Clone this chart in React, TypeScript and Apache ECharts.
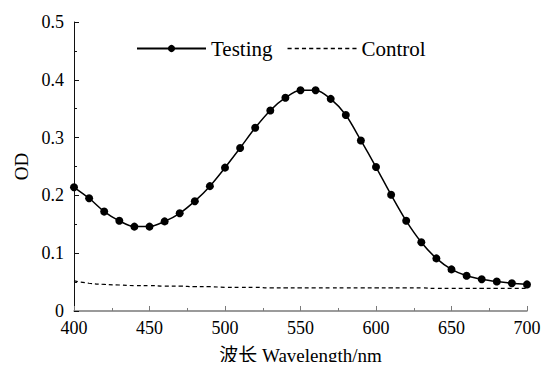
import React, { useEffect, useRef } from "react";
import * as echarts from "echarts";

const wavelengths = [400,410,420,430,440,450,460,470,480,490,500,510,520,530,540,550,560,570,580,590,600,610,620,630,640,650,660,670,680,690,700];
const testing = [0.214,0.195,0.172,0.156,0.146,0.146,0.155,0.169,0.190,0.216,0.248,0.282,0.317,0.347,0.369,0.382,0.382,0.367,0.339,0.295,0.249,0.201,0.156,0.119,0.091,0.072,0.061,0.055,0.051,0.048,0.046];
const control = [0.052,0.048,0.046,0.045,0.044,0.044,0.043,0.043,0.042,0.042,0.041,0.041,0.041,0.040,0.040,0.040,0.040,0.040,0.040,0.040,0.040,0.040,0.040,0.040,0.039,0.039,0.039,0.039,0.039,0.039,0.039];
const seriesNames = ["Testing", "Control"];
const xAxisTitle = "波长 Wavelength/nm";
const yAxisTitle = "OD";

const FONT = "'Liberation Serif', 'Times New Roman', 'Noto Sans CJK SC', serif";

function dashedIcon(): string {
  const parts: string[] = [];
  for (let i = 0; i < 10; i++) {
    const x = i * 7;
    parts.push(`M${x},0h4v1.3h-4z`);
  }
  return "path://" + parts.join(" ");
}

export default function App() {
  const ref = useRef<HTMLDivElement>(null);
  useEffect(() => {
    if (!ref.current) return;
    const chart = echarts.init(ref.current, undefined, { renderer: "svg" });
    const xAxisColor = "#7a7a7a";
    const yAxisColor = "#111";
    chart.setOption({
      animation: false,
      backgroundColor: "#fff",
      textStyle: { fontFamily: FONT },
      grid: { left: 74, right: 25, top: 22, bottom: 52 },
      legend: {
        left: 131,
        top: 33,
        itemWidth: 69,
        itemHeight: 9,
        itemGap: 15,
        symbolKeepAspect: true,
        textStyle: { fontFamily: FONT, fontSize: 21, color: "#000" },
        data: [
          { name: seriesNames[0] },
          { name: seriesNames[1], icon: dashedIcon(), itemStyle: { color: "#000" } },
        ],
      },
      xAxis: {
        type: "value",
        min: 400,
        max: 700,
        interval: 50,
        name: xAxisTitle,
        nameLocation: "middle",
        nameGap: 35,
        nameTextStyle: { fontFamily: FONT, fontSize: 19, color: "#000" },
        axisLine: { lineStyle: { color: xAxisColor, width: 1.5 } },
        axisTick: { inside: true, length: 5, lineStyle: { color: xAxisColor } },
        minorTick: { show: true, splitNumber: 2, length: 3, lineStyle: { color: xAxisColor } },
        axisLabel: { fontFamily: FONT, fontSize: 18, color: "#000", margin: 8 },
        splitLine: { show: false },
      },
      yAxis: {
        type: "value",
        min: 0,
        max: 0.5,
        interval: 0.1,
        name: yAxisTitle,
        nameLocation: "middle",
        nameGap: 43,
        nameRotate: 90,
        nameTextStyle: { fontFamily: FONT, fontSize: 19, color: "#000" },
        axisLine: { show: true, lineStyle: { color: yAxisColor, width: 1 } },
        axisTick: { show: true, inside: true, length: 5, lineStyle: { color: yAxisColor } },
        minorTick: { show: true, splitNumber: 2, length: 3, lineStyle: { color: yAxisColor } },
        axisLabel: {
          fontFamily: FONT,
          fontSize: 18,
          color: "#000",
          margin: 10,
          formatter: (v: number) => (v === 0 ? "0" : v.toFixed(1)),
        },
        splitLine: { show: false },
      },
      series: [
        {
          name: seriesNames[0],
          type: "line",
          data: wavelengths.map((w, i) => [w, testing[i]]),
          smooth: 0.3,
          symbol: "circle",
          symbolSize: 8,
          lineStyle: { color: "#000", width: 1.5 },
          itemStyle: { color: "#000" },
        },
        {
          name: seriesNames[1],
          type: "line",
          data: wavelengths.map((w, i) => [w, control[i]]),
          smooth: true,
          showSymbol: false,
          symbol: "none",
          lineStyle: { color: "#000", width: 1.2, type: [4, 3] },
          itemStyle: { color: "#000" },
        },
      ],
    });
    return () => chart.dispose();
  }, []);
  return <div ref={ref} style={{ width: 552, height: 370, margin: -8 }} />;
}
